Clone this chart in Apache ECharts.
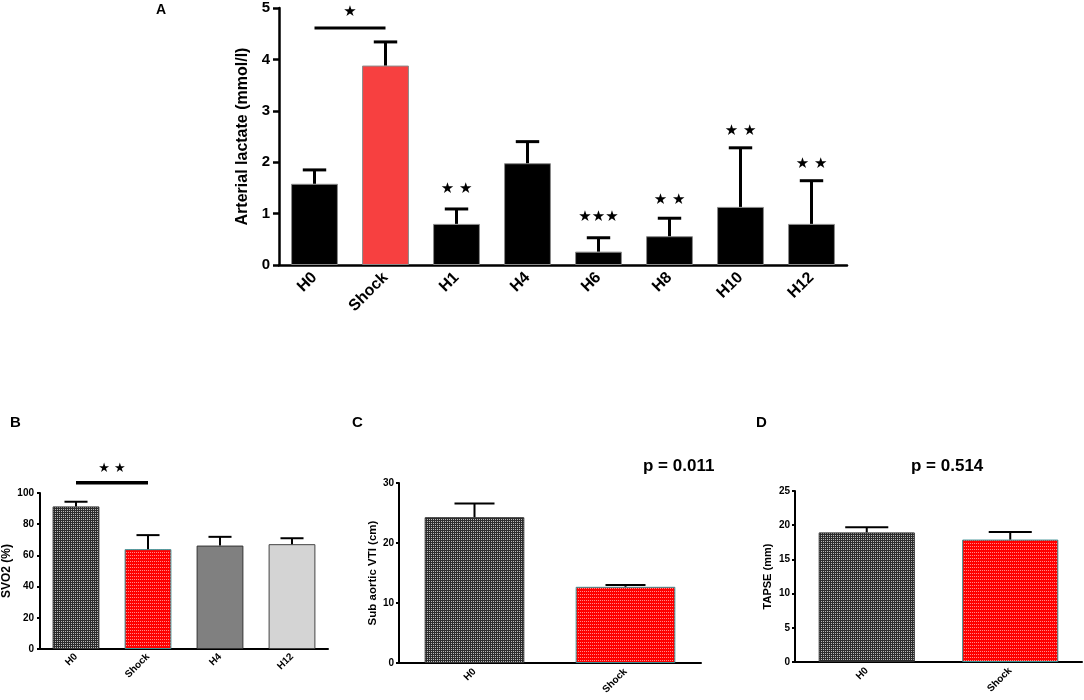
<!DOCTYPE html>
<html>
<head>
    <meta charset="utf-8">
    <title>Lactate / SVO2 / VTI / TAPSE</title>
    <script src="https://cdn.jsdelivr.net/npm/echarts@6/dist/echarts.min.js"></script>
    <style>
        html, body { margin: 0; padding: 0; background: #fff; }
    </style>
</head>
<body>
    <div id="main" style="width:1084px;height:700px;"></div>
</body>
</html>

<script type="text/javascript">
    // ---- data ----
    // panel A: arterial lactate
    var catsA = ['H0', 'Shock', 'H1', 'H4', 'H6', 'H8', 'H10', 'H12'];
    var meanA = [1.58, 3.88, 0.80, 1.98, 0.26, 0.56, 1.13, 0.80];
    var sdA   = [0.27, 0.46, 0.29, 0.42, 0.27, 0.35, 1.15, 0.84];
    var starsA = ['', '', '★ ★', '', '★★★', '★ ★', '★ ★', '★ ★'];
    var starYA = [0, 0, 1.48, 0, 0.93, 1.26, 2.61, 1.96];

    // panel B: SVO2
    var catsB = ['H0', 'Shock', 'H4', 'H12'];
    var meanB = [91.4, 64.0, 66.3, 67.2];
    var sdB   = [3.0, 9.0, 5.6, 3.8];

    // panel C: sub aortic VTI
    var catsC = ['H0', 'Shock'];
    var meanC = [24.3, 12.7];
    var sdC   = [2.3, 0.3];

    // panel D: TAPSE
    var catsD = ['H0', 'Shock'];
    var meanD = [18.95, 17.9];
    var sdD   = [0.75, 1.1];

    // ---- fill patterns (GraphPad style) ----
    function makeChecker() {
        var c = document.createElement('canvas');
        c.width = 2; c.height = 2;
        var g = c.getContext('2d');
        g.fillStyle = '#2c2c2c'; g.fillRect(0, 0, 2, 2);
        g.fillStyle = '#b8b8b8'; g.fillRect(1, 1, 1, 1);
        return { image: c, repeat: 'repeat' };
    }
    function makeRedDots() {
        var c = document.createElement('canvas');
        c.width = 2; c.height = 3;
        var g = c.getContext('2d');
        g.fillStyle = '#ff0000'; g.fillRect(0, 0, 2, 3);
        g.fillStyle = '#ff8a8a'; g.fillRect(0, 0, 1, 1);
        return { image: c, repeat: 'repeat' };
    }
    var checker = makeChecker();
    var redDots = makeRedDots();

    var stylesA = catsA.map(function (c) {
        return c === 'Shock' ? { color: '#f74040', borderColor: '#8a8a8a', borderWidth: 1 }
                             : { color: '#000', borderColor: '#8a8a8a', borderWidth: 1 };
    });
    var stylesB = [
        { color: checker, borderColor: '#333', borderWidth: 1 },
        { color: redDots, borderColor: '#3b8f93', borderWidth: 1 },
        { color: '#808080', borderColor: '#333', borderWidth: 1 },
        { color: '#d4d4d4', borderColor: '#444', borderWidth: 1 }
    ];
    var stylesCD = [
        { color: checker, borderColor: '#333', borderWidth: 1 },
        { color: redDots, borderColor: '#3b8f93', borderWidth: 1 }
    ];

    function barData(vals, styles) {
        return vals.map(function (v, i) { return { value: v, itemStyle: styles[i] }; });
    }
    function errData(means, sds) {
        return means.map(function (m, i) { return [i, m, m + sds[i]]; });
    }

    // error bar: upward stem + cap
    function errRender(capFrac, lw) {
        return function (params, api) {
            var x = api.value(0);
            var p0 = api.coord([x, api.value(1)]);
            var p1 = api.coord([x, api.value(2)]);
            var half = api.size([1, 0])[0] * capFrac / 2;
            var st = { stroke: '#000', lineWidth: lw };
            return {
                type: 'group',
                children: [
                    { type: 'line', shape: { x1: p0[0], y1: p0[1], x2: p1[0], y2: p1[1] }, style: st },
                    { type: 'line', shape: { x1: p1[0] - half, y1: p1[1], x2: p1[0] + half, y2: p1[1] }, style: st }
                ]
            };
        };
    }

    // bracket between two categories, with stars above it
    function bracketRender(lw, starText, starGap, fontSize) {
        return function (params, api) {
            var a = api.coord([api.value(0), api.value(2)]);
            var b = api.coord([api.value(1), api.value(2)]);
            return {
                type: 'group',
                children: [
                    { type: 'line', shape: { x1: a[0], y1: a[1], x2: b[0], y2: b[1] },
                      style: { stroke: '#000', lineWidth: lw } },
                    { type: 'text', x: (a[0] + b[0]) / 2, y: a[1] - starGap,
                      style: { text: starText, fill: '#000', font: fontSize + 'px "DejaVu Sans"',
                               align: 'center', verticalAlign: 'middle' } }
                ]
            };
        };
    }

    function starRender(texts, fontSize) {
        return function (params, api) {
            var p = api.coord([api.value(0), api.value(1)]);
            return {
                type: 'text', x: p[0], y: p[1],
                style: { text: texts[params.dataIndex], fill: '#000', font: fontSize + 'px "DejaVu Sans"',
                         align: 'center', verticalAlign: 'middle' }
            };
        };
    }

    var ff = '"Liberation Sans", Arial, sans-serif';

    function xAxisCfg(idx, cats, fs, lw, tickLen, margin) {
        return {
            type: 'category', gridIndex: idx, data: cats,
            axisLine: { lineStyle: { color: '#000', width: lw } },
            axisTick: { alignWithLabel: true, length: tickLen, lineStyle: { color: '#000', width: lw } },
            axisLabel: { rotate: 45, margin: margin, color: '#000', fontSize: fs, fontWeight: 'bold', fontFamily: ff },
            splitLine: { show: false }
        };
    }
    function yAxisCfg(idx, name, max, interval, fs, nameFs, nameGap, lw, tickLen, margin) {
        return {
            type: 'value', gridIndex: idx, min: 0, max: max, interval: interval,
            name: name, nameLocation: 'middle', nameGap: nameGap,
            nameTextStyle: { color: '#000', fontSize: nameFs, fontWeight: 'bold', fontFamily: ff },
            axisLine: { show: true, lineStyle: { color: '#000', width: lw } },
            axisTick: { show: true, length: tickLen, lineStyle: { color: '#000', width: lw } },
            axisLabel: { margin: margin, color: '#000', fontSize: fs, fontWeight: 'bold', fontFamily: ff },
            splitLine: { show: false }
        };
    }

    var myChart = echarts.init(document.getElementById('main'));

    var titleStyle = function (fs) {
        return { color: '#000', fontSize: fs, fontWeight: 'bold', fontFamily: ff };
    };

    option = {
        backgroundColor: '#fff',
        animation: false,
        title: [
            { text: 'A', left: 156, top: 3, padding: 0, textStyle: titleStyle(14) },
            { text: 'B', left: 10, top: 415, padding: 0, textStyle: titleStyle(15) },
            { text: 'C', left: 352, top: 415, padding: 0, textStyle: titleStyle(15) },
            { text: 'D', left: 756, top: 415, padding: 0, textStyle: titleStyle(15) },
            { text: 'p = 0.011', left: 643, top: 458, padding: 0, textStyle: titleStyle(17) },
            { text: 'p = 0.514', left: 911, top: 458, padding: 0, textStyle: titleStyle(17) }
        ],
        grid: [
            { left: 279, top: 8, width: 568, height: 257 },
            { left: 40, top: 493, width: 288, height: 156 },
            { left: 399, top: 483, width: 302, height: 180 },
            { left: 795, top: 491, width: 287, height: 171 }
        ],
        xAxis: [
            xAxisCfg(0, catsA, 16, 2.5, 5, 10),
            xAxisCfg(1, catsB, 10, 2, 3, 6),
            xAxisCfg(2, catsC, 10, 2, 3, 7),
            xAxisCfg(3, catsD, 10, 2, 3, 7)
        ],
        yAxis: [
            yAxisCfg(0, 'Arterial lactate (mmol/l)', 5, 1, 15, 16, 27, 2.5, 6, 9),
            yAxisCfg(1, 'SVO2 (%)', 100, 20, 10, 12, 27, 2, 3, 6),
            yAxisCfg(2, 'Sub aortic VTI (cm)', 30, 10, 10, 11.5, 20, 2, 3, 5),
            yAxisCfg(3, 'TAPSE (mm)', 25, 5, 10, 11, 22, 2, 3, 5)
        ],
        series: [
            { type: 'bar', xAxisIndex: 0, yAxisIndex: 0, barWidth: '66%', data: barData(meanA, stylesA) },
            { type: 'custom', xAxisIndex: 0, yAxisIndex: 0, z: 5, renderItem: errRender(0.33, 3), data: errData(meanA, sdA) },
            { type: 'custom', xAxisIndex: 0, yAxisIndex: 0, z: 5, renderItem: bracketRender(3, '★', 16, 15), data: [[0, 1, 4.61]] },
            { type: 'custom', xAxisIndex: 0, yAxisIndex: 0, z: 5, renderItem: starRender(starsA, 15),
              data: starYA.map(function (y, i) { return [i, y]; }) },

            { type: 'bar', xAxisIndex: 1, yAxisIndex: 1, barWidth: '65%', data: barData(meanB, stylesB) },
            { type: 'custom', xAxisIndex: 1, yAxisIndex: 1, z: 5, renderItem: errRender(0.32, 2), data: errData(meanB, sdB) },
            { type: 'custom', xAxisIndex: 1, yAxisIndex: 1, z: 5, renderItem: bracketRender(3.5, '★ ★', 14, 13), data: [[0, 1, 106.5]] },

            { type: 'bar', xAxisIndex: 2, yAxisIndex: 2, barWidth: '66%', data: barData(meanC, stylesCD) },
            { type: 'custom', xAxisIndex: 2, yAxisIndex: 2, z: 5, renderItem: errRender(0.265, 2), data: errData(meanC, sdC) },

            { type: 'bar', xAxisIndex: 3, yAxisIndex: 3, barWidth: '67%', data: barData(meanD, stylesCD) },
            { type: 'custom', xAxisIndex: 3, yAxisIndex: 3, z: 5, renderItem: errRender(0.3, 2), data: errData(meanD, sdD) }
        ]
    };

    myChart.setOption(option);
</script>
